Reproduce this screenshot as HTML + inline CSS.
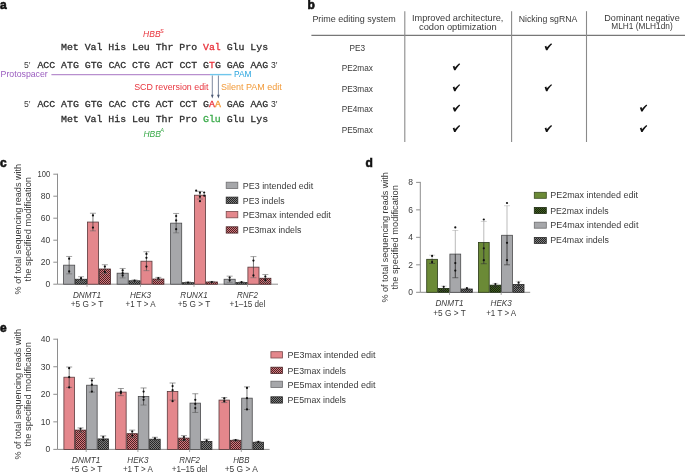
<!DOCTYPE html>
<html><head><meta charset="utf-8"><style>
html,body{margin:0;padding:0;background:#fff;}
body{width:685px;height:473px;overflow:hidden;}
svg{display:block;font-family:"Liberation Sans", sans-serif;will-change:transform;}
</style></head><body>
<svg width="685" height="473" viewBox="0 0 685 473">
<text x="0" y="8.8" font-size="12.0" fill="#111" text-anchor="start" font-weight="bold" stroke="#111" stroke-width="0.6">a</text>
<text x="307.6" y="8.8" font-size="12.0" fill="#111" text-anchor="start" font-weight="bold" stroke="#111" stroke-width="0.6">b</text>
<text x="0" y="166.7" font-size="12.0" fill="#111" text-anchor="start" font-weight="bold" stroke="#111" stroke-width="0.6">c</text>
<text x="365.4" y="166.7" font-size="12.0" fill="#111" text-anchor="start" font-weight="bold" stroke="#111" stroke-width="0.6">d</text>
<text x="0" y="332.1" font-size="12.0" fill="#111" text-anchor="start" font-weight="bold" stroke="#111" stroke-width="0.6">e</text>
<text x="143.1" y="36.8" font-size="8.5" fill="#e8333c" text-anchor="start" font-style="italic">HBB</text>
<text x="160.0" y="32.6" font-size="5.6" fill="#e8333c" text-anchor="start" font-style="italic">S</text>
<text x="61.0" y="50.0" font-family='"Liberation Mono", monospace' font-size="9.875" stroke-width="0.3" xml:space="preserve" fill="#2e2e2e"><tspan fill="#2e2e2e" stroke="#2e2e2e">Met Val His Leu Thr Pro </tspan><tspan fill="#e8333c" stroke="#e8333c">Val</tspan><tspan fill="#2e2e2e" stroke="#2e2e2e"> Glu Lys</tspan></text>
<text x="24" y="68.0" font-size="8.6" fill="#3a3a3a" text-anchor="start" >5′</text>
<text x="37.4" y="68.0" font-family='"Liberation Mono", monospace' font-size="9.875" stroke-width="0.3" xml:space="preserve" fill="#2e2e2e"><tspan fill="#2e2e2e" stroke="#2e2e2e">ACC ATG GTG CAC CTG ACT CCT G</tspan><tspan fill="#e8333c" stroke="#e8333c">T</tspan><tspan fill="#2e2e2e" stroke="#2e2e2e">G GAG AAG</tspan></text>
<text x="271" y="68.0" font-size="8.6" fill="#2e2e2e" text-anchor="start" >3′</text>
<text x="0.6" y="77.2" font-size="8.75" fill="#9a5cbf" text-anchor="start" >Protospacer</text>
<line x1="51.4" y1="74.6" x2="210" y2="74.6" stroke="#b88fce" stroke-width="1.4" />
<line x1="210" y1="74.6" x2="231.5" y2="74.6" stroke="#70c6ec" stroke-width="1.4" />
<text x="234.0" y="77.3" font-size="8.4" fill="#2aa5df" text-anchor="start" >PAM</text>
<text x="134.2" y="90.3" font-size="8.87" fill="#e8333c" text-anchor="start" >SCD reversion edit</text>
<text x="221" y="90.3" font-size="8.98" fill="#f29a38" text-anchor="start" >Silent PAM edit</text>
<line x1="212.3" y1="75.5" x2="212.3" y2="95.5" stroke="#66748c" stroke-width="0.85" />
<path d="M210.95000000000002,94.7 L212.3,98.5 L213.65,94.7 Z" fill="#4a5873"/>
<line x1="218.4" y1="75.5" x2="218.4" y2="95.5" stroke="#66748c" stroke-width="0.85" />
<path d="M217.05,94.7 L218.4,98.5 L219.75,94.7 Z" fill="#4a5873"/>
<text x="24" y="107.4" font-size="8.6" fill="#3a3a3a" text-anchor="start" >5′</text>
<text x="37.4" y="107.4" font-family='"Liberation Mono", monospace' font-size="9.875" stroke-width="0.3" xml:space="preserve" fill="#2e2e2e"><tspan fill="#2e2e2e" stroke="#2e2e2e">ACC ATG GTG CAC CTG ACT CCT G</tspan><tspan fill="#e8333c" stroke="#e8333c">A</tspan><tspan fill="#f29a38" stroke="#f29a38">A</tspan><tspan fill="#2e2e2e" stroke="#2e2e2e"> GAG AAG</tspan></text>
<text x="271" y="107.4" font-size="8.6" fill="#2e2e2e" text-anchor="start" >3′</text>
<text x="61.0" y="122.4" font-family='"Liberation Mono", monospace' font-size="9.875" stroke-width="0.3" xml:space="preserve" fill="#2e2e2e"><tspan fill="#2e2e2e" stroke="#2e2e2e">Met Val His Leu Thr Pro </tspan><tspan fill="#3aaa4a" stroke="#3aaa4a">Glu</tspan><tspan fill="#2e2e2e" stroke="#2e2e2e"> Glu Lys</tspan></text>
<text x="143.4" y="136.6" font-size="8.5" fill="#3aaa4a" text-anchor="start" font-style="italic">HBB</text>
<text x="160.3" y="132.4" font-size="5.6" fill="#3aaa4a" text-anchor="start" font-style="italic">A</text>
<line x1="311.4" y1="35.3" x2="685" y2="35.3" stroke="#555" stroke-width="1" />
<line x1="404.8" y1="11.2" x2="404.8" y2="142" stroke="#8a8a8a" stroke-width="1.1" />
<line x1="511.6" y1="11.2" x2="511.6" y2="142" stroke="#8a8a8a" stroke-width="1.1" />
<line x1="586.5" y1="11.2" x2="586.5" y2="142" stroke="#8a8a8a" stroke-width="1.1" />
<text x="354.0" y="21.9" font-size="8.97" fill="#3a3a3a" text-anchor="middle" >Prime editing system</text>
<text x="457.7" y="21.0" font-size="9.2" fill="#3a3a3a" text-anchor="middle" >Improved architecture,</text>
<text x="457.8" y="29.7" font-size="9.32" fill="#3a3a3a" text-anchor="middle" >codon optimization</text>
<text x="548.0" y="21.5" font-size="8.71" fill="#3a3a3a" text-anchor="middle" >Nicking sgRNA</text>
<text x="642.0" y="20.5" font-size="9.04" fill="#3a3a3a" text-anchor="middle" >Dominant negative</text>
<text x="642.0" y="28.9" font-size="8.3" fill="#3a3a3a" text-anchor="middle" >MLH1 (MLH1dn)</text>
<text x="357.3" y="50.8" font-size="8.25" fill="#3a3a3a" text-anchor="middle" >PE3</text>
<path transform="translate(544.65,43.40)" d="M0,3.0 L1.7,2.3 L2.2,4.0 C3.5,2.5 5.0,1.0 6.5,-0.1 L7.4,0.8 C5.6,2.5 4.1,4.4 2.75,6.9 L1.35,6.9 Z" fill="#111"/>
<text x="357.3" y="70.8" font-size="8.25" fill="#3a3a3a" text-anchor="middle" >PE2max</text>
<path transform="translate(452.75,63.40)" d="M0,3.0 L1.7,2.3 L2.2,4.0 C3.5,2.5 5.0,1.0 6.5,-0.1 L7.4,0.8 C5.6,2.5 4.1,4.4 2.75,6.9 L1.35,6.9 Z" fill="#111"/>
<text x="357.3" y="91.7" font-size="8.25" fill="#3a3a3a" text-anchor="middle" >PE3max</text>
<path transform="translate(452.75,84.30)" d="M0,3.0 L1.7,2.3 L2.2,4.0 C3.5,2.5 5.0,1.0 6.5,-0.1 L7.4,0.8 C5.6,2.5 4.1,4.4 2.75,6.9 L1.35,6.9 Z" fill="#111"/>
<path transform="translate(544.65,84.30)" d="M0,3.0 L1.7,2.3 L2.2,4.0 C3.5,2.5 5.0,1.0 6.5,-0.1 L7.4,0.8 C5.6,2.5 4.1,4.4 2.75,6.9 L1.35,6.9 Z" fill="#111"/>
<text x="357.3" y="112.1" font-size="8.25" fill="#3a3a3a" text-anchor="middle" >PE4max</text>
<path transform="translate(452.75,104.70)" d="M0,3.0 L1.7,2.3 L2.2,4.0 C3.5,2.5 5.0,1.0 6.5,-0.1 L7.4,0.8 C5.6,2.5 4.1,4.4 2.75,6.9 L1.35,6.9 Z" fill="#111"/>
<path transform="translate(639.85,104.70)" d="M0,3.0 L1.7,2.3 L2.2,4.0 C3.5,2.5 5.0,1.0 6.5,-0.1 L7.4,0.8 C5.6,2.5 4.1,4.4 2.75,6.9 L1.35,6.9 Z" fill="#111"/>
<text x="357.3" y="132.6" font-size="8.25" fill="#3a3a3a" text-anchor="middle" >PE5max</text>
<path transform="translate(452.75,125.20)" d="M0,3.0 L1.7,2.3 L2.2,4.0 C3.5,2.5 5.0,1.0 6.5,-0.1 L7.4,0.8 C5.6,2.5 4.1,4.4 2.75,6.9 L1.35,6.9 Z" fill="#111"/>
<path transform="translate(544.65,125.20)" d="M0,3.0 L1.7,2.3 L2.2,4.0 C3.5,2.5 5.0,1.0 6.5,-0.1 L7.4,0.8 C5.6,2.5 4.1,4.4 2.75,6.9 L1.35,6.9 Z" fill="#111"/>
<path transform="translate(639.85,125.20)" d="M0,3.0 L1.7,2.3 L2.2,4.0 C3.5,2.5 5.0,1.0 6.5,-0.1 L7.4,0.8 C5.6,2.5 4.1,4.4 2.75,6.9 L1.35,6.9 Z" fill="#111"/>
<defs>
<pattern id="hpink" width="2" height="2" patternUnits="userSpaceOnUse"><rect width="2" height="2" fill="#d8767c"/><rect width="1" height="1" fill="#4a2426"/><rect x="1" y="1" width="1" height="1" fill="#4a2426"/></pattern>
<pattern id="hgray" width="2" height="2" patternUnits="userSpaceOnUse"><rect width="2" height="2" fill="#7e7e7e"/><rect width="1" height="1" fill="#262626"/><rect x="1" y="1" width="1" height="1" fill="#262626"/></pattern>
<pattern id="hgreen" width="2" height="2" patternUnits="userSpaceOnUse"><rect width="2" height="2" fill="#425e22"/><rect width="1" height="1" fill="#18260c"/><rect x="1" y="1" width="1" height="1" fill="#18260c"/></pattern>
</defs>
<line x1="57.5" y1="173.7" x2="57.5" y2="284.2" stroke="#8e8e8e" stroke-width="1" />
<line x1="57.5" y1="284.2" x2="278" y2="284.2" stroke="#8e8e8e" stroke-width="1" />
<line x1="53.3" y1="284.2" x2="57.5" y2="284.2" stroke="#8e8e8e" stroke-width="1" />
<text x="50.2" y="287.09999999999997" font-size="8.5" fill="#3a3a3a" text-anchor="end" >0</text>
<line x1="53.3" y1="262.2" x2="57.5" y2="262.2" stroke="#8e8e8e" stroke-width="1" />
<text x="50.2" y="265.09999999999997" font-size="8.5" fill="#3a3a3a" text-anchor="end" >20</text>
<line x1="53.3" y1="240.2" x2="57.5" y2="240.2" stroke="#8e8e8e" stroke-width="1" />
<text x="50.2" y="243.1" font-size="8.5" fill="#3a3a3a" text-anchor="end" >40</text>
<line x1="53.3" y1="218.2" x2="57.5" y2="218.2" stroke="#8e8e8e" stroke-width="1" />
<text x="50.2" y="221.1" font-size="8.5" fill="#3a3a3a" text-anchor="end" >60</text>
<line x1="53.3" y1="196.2" x2="57.5" y2="196.2" stroke="#8e8e8e" stroke-width="1" />
<text x="50.2" y="199.1" font-size="8.5" fill="#3a3a3a" text-anchor="end" >80</text>
<line x1="53.3" y1="174.2" x2="57.5" y2="174.2" stroke="#8e8e8e" stroke-width="1" />
<text x="50.2" y="177.1" font-size="8.5" fill="#3a3a3a" text-anchor="end" textLength="12.6" lengthAdjust="spacingAndGlyphs">100</text>
<text transform="translate(21.1,229.2) rotate(-90)" x="0" y="0" font-size="9.07" fill="#3a3a3a" text-anchor="middle">% of total sequencing reads with</text>
<text transform="translate(30.8,229.2) rotate(-90)" x="0" y="0" font-size="9.3" fill="#3a3a3a" text-anchor="middle">the specified modification</text>
<rect x="63.60" y="265.17" width="11.10" height="19.03" fill="#a6a7aa" stroke="#4a4a4c" stroke-width="0.8"/>
<line x1="69.15" y1="256.47999999999996" x2="69.15" y2="265.16999999999996" stroke="#303030" stroke-width="0.65" />
<line x1="69.15" y1="265.16999999999996" x2="69.15" y2="273.86" stroke="#303030" stroke-width="0.65" />
<line x1="66.15" y1="256.47999999999996" x2="72.15" y2="256.47999999999996" stroke="#6a6a6a" stroke-width="0.6" />
<line x1="66.15" y1="273.86" x2="72.15" y2="273.86" stroke="#6a6a6a" stroke-width="0.6" />
<circle cx="69.15" cy="258.68" r="1.1" fill="#111"/>
<circle cx="69.15" cy="271.44" r="1.1" fill="#111"/>
<rect x="75.50" y="279.25" width="11.10" height="4.95" fill="url(#hgray)" stroke="#2a2a2a" stroke-width="0.8"/>
<line x1="81.05000000000001" y1="276.71999999999997" x2="81.05000000000001" y2="279.25" stroke="#303030" stroke-width="0.65" />
<line x1="81.05000000000001" y1="279.25" x2="81.05000000000001" y2="281.78" stroke="#303030" stroke-width="0.65" />
<line x1="78.05000000000001" y1="276.71999999999997" x2="84.05000000000001" y2="276.71999999999997" stroke="#6a6a6a" stroke-width="0.6" />
<line x1="78.05000000000001" y1="281.78" x2="84.05000000000001" y2="281.78" stroke="#6a6a6a" stroke-width="0.6" />
<circle cx="81.05" cy="278.15" r="1.1" fill="#111"/>
<rect x="87.40" y="222.05" width="11.10" height="62.15" fill="#e4878c" stroke="#5a3a3c" stroke-width="0.8"/>
<line x1="92.95" y1="213.25" x2="92.95" y2="222.04999999999998" stroke="#303030" stroke-width="0.65" />
<line x1="92.95" y1="222.04999999999998" x2="92.95" y2="230.85" stroke="#303030" stroke-width="0.65" />
<line x1="89.95" y1="213.25" x2="95.95" y2="213.25" stroke="#6a6a6a" stroke-width="0.6" />
<line x1="89.95" y1="230.85" x2="95.95" y2="230.85" stroke="#6a6a6a" stroke-width="0.6" />
<circle cx="92.95" cy="215.45" r="1.1" fill="#111"/>
<circle cx="92.95" cy="227.55" r="1.1" fill="#111"/>
<rect x="99.30" y="269.02" width="11.10" height="15.18" fill="url(#hpink)" stroke="#4a2426" stroke-width="0.8"/>
<line x1="104.85000000000001" y1="264.72999999999996" x2="104.85000000000001" y2="269.02" stroke="#303030" stroke-width="0.65" />
<line x1="104.85000000000001" y1="269.02" x2="104.85000000000001" y2="273.31" stroke="#303030" stroke-width="0.65" />
<line x1="101.85000000000001" y1="264.72999999999996" x2="107.85000000000001" y2="264.72999999999996" stroke="#6a6a6a" stroke-width="0.6" />
<line x1="101.85000000000001" y1="273.31" x2="107.85000000000001" y2="273.31" stroke="#6a6a6a" stroke-width="0.6" />
<circle cx="104.85" cy="266.60" r="1.1" fill="#111"/>
<circle cx="104.85" cy="272.10" r="1.1" fill="#111"/>
<line x1="87.0" y1="284.2" x2="87.0" y2="286.8" stroke="#8e8e8e" stroke-width="0.8" />
<text x="87.0" y="297.6" font-size="9.2" fill="#3a3a3a" text-anchor="middle" font-style="italic" textLength="28.2" lengthAdjust="spacingAndGlyphs">DNMT1</text>
<text x="87.0" y="307.4" font-size="9.0" fill="#3a3a3a" text-anchor="middle" textLength="32.4" lengthAdjust="spacingAndGlyphs">+5 G &gt; T</text>
<rect x="117.10" y="273.20" width="11.10" height="11.00" fill="#a6a7aa" stroke="#4a4a4c" stroke-width="0.8"/>
<line x1="122.65" y1="268.46999999999997" x2="122.65" y2="273.2" stroke="#303030" stroke-width="0.65" />
<line x1="122.65" y1="273.2" x2="122.65" y2="277.93" stroke="#303030" stroke-width="0.65" />
<line x1="119.65" y1="268.46999999999997" x2="125.65" y2="268.46999999999997" stroke="#6a6a6a" stroke-width="0.6" />
<line x1="119.65" y1="277.93" x2="125.65" y2="277.93" stroke="#6a6a6a" stroke-width="0.6" />
<circle cx="122.65" cy="270.45" r="1.1" fill="#111"/>
<circle cx="122.65" cy="275.40" r="1.1" fill="#111"/>
<circle cx="122.65" cy="273.20" r="1.1" fill="#111"/>
<rect x="129.00" y="280.79" width="11.10" height="3.41" fill="url(#hgray)" stroke="#2a2a2a" stroke-width="0.8"/>
<line x1="134.54999999999998" y1="280.02" x2="134.54999999999998" y2="280.78999999999996" stroke="#303030" stroke-width="0.65" />
<line x1="134.54999999999998" y1="280.78999999999996" x2="134.54999999999998" y2="281.56" stroke="#303030" stroke-width="0.65" />
<line x1="131.54999999999998" y1="280.02" x2="137.54999999999998" y2="280.02" stroke="#6a6a6a" stroke-width="0.6" />
<line x1="131.54999999999998" y1="281.56" x2="137.54999999999998" y2="281.56" stroke="#6a6a6a" stroke-width="0.6" />
<circle cx="134.55" cy="280.68" r="1.1" fill="#111"/>
<rect x="140.90" y="261.21" width="11.10" height="22.99" fill="#e4878c" stroke="#5a3a3c" stroke-width="0.8"/>
<line x1="146.45" y1="251.75" x2="146.45" y2="261.21" stroke="#303030" stroke-width="0.65" />
<line x1="146.45" y1="261.21" x2="146.45" y2="270.67" stroke="#303030" stroke-width="0.65" />
<line x1="143.45" y1="251.75" x2="149.45" y2="251.75" stroke="#6a6a6a" stroke-width="0.6" />
<line x1="143.45" y1="270.67" x2="149.45" y2="270.67" stroke="#6a6a6a" stroke-width="0.6" />
<circle cx="146.45" cy="253.95" r="1.1" fill="#111"/>
<circle cx="146.45" cy="257.80" r="1.1" fill="#111"/>
<circle cx="146.45" cy="266.60" r="1.1" fill="#111"/>
<rect x="152.80" y="279.03" width="11.10" height="5.17" fill="url(#hpink)" stroke="#4a2426" stroke-width="0.8"/>
<line x1="158.35" y1="277.38" x2="158.35" y2="279.03" stroke="#303030" stroke-width="0.65" />
<line x1="158.35" y1="279.03" x2="158.35" y2="280.68" stroke="#303030" stroke-width="0.65" />
<line x1="155.35" y1="277.38" x2="161.35" y2="277.38" stroke="#6a6a6a" stroke-width="0.6" />
<line x1="155.35" y1="280.68" x2="161.35" y2="280.68" stroke="#6a6a6a" stroke-width="0.6" />
<circle cx="158.35" cy="278.15" r="1.1" fill="#111"/>
<line x1="140.5" y1="284.2" x2="140.5" y2="286.8" stroke="#8e8e8e" stroke-width="0.8" />
<text x="140.5" y="297.6" font-size="9.2" fill="#3a3a3a" text-anchor="middle" font-style="italic" textLength="21.2" lengthAdjust="spacingAndGlyphs">HEK3</text>
<text x="140.5" y="307.4" font-size="9.0" fill="#3a3a3a" text-anchor="middle" textLength="30.0" lengthAdjust="spacingAndGlyphs">+1 T &gt; A</text>
<rect x="170.60" y="223.15" width="11.10" height="61.05" fill="#a6a7aa" stroke="#4a4a4c" stroke-width="0.8"/>
<line x1="176.14999999999998" y1="213.46999999999997" x2="176.14999999999998" y2="223.14999999999998" stroke="#303030" stroke-width="0.65" />
<line x1="176.14999999999998" y1="223.14999999999998" x2="176.14999999999998" y2="232.82999999999998" stroke="#303030" stroke-width="0.65" />
<line x1="173.14999999999998" y1="213.46999999999997" x2="179.14999999999998" y2="213.46999999999997" stroke="#6a6a6a" stroke-width="0.6" />
<line x1="173.14999999999998" y1="232.82999999999998" x2="179.14999999999998" y2="232.82999999999998" stroke="#6a6a6a" stroke-width="0.6" />
<circle cx="176.15" cy="216.00" r="1.1" fill="#111"/>
<circle cx="176.15" cy="220.40" r="1.1" fill="#111"/>
<circle cx="176.15" cy="229.20" r="1.1" fill="#111"/>
<rect x="182.50" y="282.66" width="11.10" height="1.54" fill="url(#hgray)" stroke="#2a2a2a" stroke-width="0.8"/>
<line x1="188.04999999999998" y1="282.0" x2="188.04999999999998" y2="282.65999999999997" stroke="#303030" stroke-width="0.65" />
<line x1="188.04999999999998" y1="282.65999999999997" x2="188.04999999999998" y2="283.32" stroke="#303030" stroke-width="0.65" />
<line x1="185.04999999999998" y1="282.0" x2="191.04999999999998" y2="282.0" stroke="#6a6a6a" stroke-width="0.6" />
<line x1="185.04999999999998" y1="283.32" x2="191.04999999999998" y2="283.32" stroke="#6a6a6a" stroke-width="0.6" />
<circle cx="188.05" cy="282.55" r="1.1" fill="#111"/>
<rect x="194.40" y="195.21" width="11.10" height="88.99" fill="#e4878c" stroke="#5a3a3c" stroke-width="0.8"/>
<line x1="199.95" y1="191.35999999999996" x2="199.95" y2="195.20999999999998" stroke="#303030" stroke-width="0.65" />
<line x1="199.95" y1="195.20999999999998" x2="199.95" y2="199.05999999999997" stroke="#303030" stroke-width="0.65" />
<line x1="196.95" y1="191.35999999999996" x2="202.95" y2="191.35999999999996" stroke="#6a6a6a" stroke-width="0.6" />
<line x1="196.95" y1="199.05999999999997" x2="202.95" y2="199.05999999999997" stroke="#6a6a6a" stroke-width="0.6" />
<circle cx="196.15" cy="190.70" r="1.1" fill="#111"/>
<circle cx="199.95" cy="192.68" r="1.1" fill="#111"/>
<circle cx="204.15" cy="192.57" r="1.1" fill="#111"/>
<circle cx="204.25" cy="195.65" r="1.1" fill="#111"/>
<circle cx="199.95" cy="196.75" r="1.1" fill="#111"/>
<circle cx="199.95" cy="201.15" r="1.1" fill="#111"/>
<rect x="206.30" y="282.00" width="11.10" height="2.20" fill="url(#hpink)" stroke="#4a2426" stroke-width="0.8"/>
<line x1="211.84999999999997" y1="281.45" x2="211.84999999999997" y2="282.0" stroke="#303030" stroke-width="0.65" />
<line x1="211.84999999999997" y1="282.0" x2="211.84999999999997" y2="282.55" stroke="#303030" stroke-width="0.65" />
<line x1="208.84999999999997" y1="281.45" x2="214.84999999999997" y2="281.45" stroke="#6a6a6a" stroke-width="0.6" />
<line x1="208.84999999999997" y1="282.55" x2="214.84999999999997" y2="282.55" stroke="#6a6a6a" stroke-width="0.6" />
<circle cx="211.85" cy="282.00" r="1.1" fill="#111"/>
<line x1="194.0" y1="284.2" x2="194.0" y2="286.8" stroke="#8e8e8e" stroke-width="0.8" />
<text x="194.0" y="297.6" font-size="9.2" fill="#3a3a3a" text-anchor="middle" font-style="italic" textLength="27.4" lengthAdjust="spacingAndGlyphs">RUNX1</text>
<text x="194.0" y="307.4" font-size="9.0" fill="#3a3a3a" text-anchor="middle" textLength="32.4" lengthAdjust="spacingAndGlyphs">+5 G &gt; T</text>
<rect x="224.10" y="279.25" width="11.10" height="4.95" fill="#a6a7aa" stroke="#4a4a4c" stroke-width="0.8"/>
<line x1="229.64999999999998" y1="276.16999999999996" x2="229.64999999999998" y2="279.25" stroke="#303030" stroke-width="0.65" />
<line x1="229.64999999999998" y1="279.25" x2="229.64999999999998" y2="282.33" stroke="#303030" stroke-width="0.65" />
<line x1="226.64999999999998" y1="276.16999999999996" x2="232.64999999999998" y2="276.16999999999996" stroke="#6a6a6a" stroke-width="0.6" />
<line x1="226.64999999999998" y1="282.33" x2="232.64999999999998" y2="282.33" stroke="#6a6a6a" stroke-width="0.6" />
<circle cx="229.65" cy="277.60" r="1.1" fill="#111"/>
<circle cx="229.65" cy="280.35" r="1.1" fill="#111"/>
<rect x="236.00" y="282.55" width="11.10" height="1.65" fill="url(#hgray)" stroke="#2a2a2a" stroke-width="0.8"/>
<line x1="241.54999999999998" y1="282.0" x2="241.54999999999998" y2="282.55" stroke="#303030" stroke-width="0.65" />
<line x1="241.54999999999998" y1="282.55" x2="241.54999999999998" y2="283.09999999999997" stroke="#303030" stroke-width="0.65" />
<line x1="238.54999999999998" y1="282.0" x2="244.54999999999998" y2="282.0" stroke="#6a6a6a" stroke-width="0.6" />
<line x1="238.54999999999998" y1="283.09999999999997" x2="244.54999999999998" y2="283.09999999999997" stroke="#6a6a6a" stroke-width="0.6" />
<circle cx="241.55" cy="282.22" r="1.1" fill="#111"/>
<rect x="247.90" y="267.15" width="11.10" height="17.05" fill="#e4878c" stroke="#5a3a3c" stroke-width="0.8"/>
<line x1="253.45" y1="256.59" x2="253.45" y2="267.15" stroke="#303030" stroke-width="0.65" />
<line x1="253.45" y1="267.15" x2="253.45" y2="277.71" stroke="#303030" stroke-width="0.65" />
<line x1="250.45" y1="256.59" x2="256.45" y2="256.59" stroke="#6a6a6a" stroke-width="0.6" />
<line x1="250.45" y1="277.71" x2="256.45" y2="277.71" stroke="#6a6a6a" stroke-width="0.6" />
<circle cx="253.45" cy="260.55" r="1.1" fill="#111"/>
<circle cx="253.45" cy="275.40" r="1.1" fill="#111"/>
<rect x="259.80" y="278.26" width="11.10" height="5.94" fill="url(#hpink)" stroke="#4a2426" stroke-width="0.8"/>
<line x1="265.34999999999997" y1="274.52" x2="265.34999999999997" y2="278.26" stroke="#303030" stroke-width="0.65" />
<line x1="265.34999999999997" y1="278.26" x2="265.34999999999997" y2="282.0" stroke="#303030" stroke-width="0.65" />
<line x1="262.34999999999997" y1="274.52" x2="268.34999999999997" y2="274.52" stroke="#6a6a6a" stroke-width="0.6" />
<line x1="262.34999999999997" y1="282.0" x2="268.34999999999997" y2="282.0" stroke="#6a6a6a" stroke-width="0.6" />
<circle cx="265.35" cy="276.50" r="1.1" fill="#111"/>
<circle cx="265.35" cy="279.80" r="1.1" fill="#111"/>
<line x1="247.5" y1="284.2" x2="247.5" y2="286.8" stroke="#8e8e8e" stroke-width="0.8" />
<text x="247.5" y="297.6" font-size="9.2" fill="#3a3a3a" text-anchor="middle" font-style="italic" textLength="20.8" lengthAdjust="spacingAndGlyphs">RNF2</text>
<text x="247.5" y="307.4" font-size="9.0" fill="#3a3a3a" text-anchor="middle" textLength="35.9" lengthAdjust="spacingAndGlyphs">+1–15 del</text>
<rect x="226.20" y="182.20" width="11.60" height="6.30" fill="#a6a7aa" stroke="#6e6e70" stroke-width="0.8"/>
<text x="242.8" y="188.7" font-size="9.6" fill="#3a3a3a" text-anchor="start" textLength="70.4" lengthAdjust="spacingAndGlyphs">PE3 intended edit</text>
<rect x="226.20" y="197.10" width="11.60" height="6.30" fill="url(#hgray)" stroke="#2a2a2a" stroke-width="0.8"/>
<text x="242.8" y="203.6" font-size="9.6" fill="#3a3a3a" text-anchor="start" textLength="41.8" lengthAdjust="spacingAndGlyphs">PE3 indels</text>
<rect x="226.20" y="211.50" width="11.60" height="6.30" fill="#e4878c" stroke="#7a4a4c" stroke-width="0.8"/>
<text x="242.8" y="218.0" font-size="9.6" fill="#3a3a3a" text-anchor="start" textLength="87.9" lengthAdjust="spacingAndGlyphs">PE3max intended edit</text>
<rect x="226.20" y="226.80" width="11.60" height="6.30" fill="url(#hpink)" stroke="#4a2426" stroke-width="0.8"/>
<text x="242.8" y="233.3" font-size="9.6" fill="#3a3a3a" text-anchor="start" textLength="58.5" lengthAdjust="spacingAndGlyphs">PE3max indels</text>
<line x1="420.3" y1="181.9" x2="420.3" y2="292.3" stroke="#8e8e8e" stroke-width="1" />
<line x1="420.3" y1="292.3" x2="530.2" y2="292.3" stroke="#8e8e8e" stroke-width="1" />
<line x1="416.1" y1="292.3" x2="420.3" y2="292.3" stroke="#8e8e8e" stroke-width="1" />
<text x="413.0" y="295.2" font-size="8.5" fill="#3a3a3a" text-anchor="end" >0</text>
<line x1="416.1" y1="264.82" x2="420.3" y2="264.82" stroke="#8e8e8e" stroke-width="1" />
<text x="413.0" y="267.71999999999997" font-size="8.5" fill="#3a3a3a" text-anchor="end" >2</text>
<line x1="416.1" y1="237.34" x2="420.3" y2="237.34" stroke="#8e8e8e" stroke-width="1" />
<text x="413.0" y="240.24" font-size="8.5" fill="#3a3a3a" text-anchor="end" >4</text>
<line x1="416.1" y1="209.86" x2="420.3" y2="209.86" stroke="#8e8e8e" stroke-width="1" />
<text x="413.0" y="212.76000000000002" font-size="8.5" fill="#3a3a3a" text-anchor="end" >6</text>
<line x1="416.1" y1="182.38" x2="420.3" y2="182.38" stroke="#8e8e8e" stroke-width="1" />
<text x="413.0" y="185.28" font-size="8.5" fill="#3a3a3a" text-anchor="end" >8</text>
<text transform="translate(388.3,237.35000000000002) rotate(-90)" x="0" y="0" font-size="9.07" fill="#3a3a3a" text-anchor="middle">% of total sequencing reads with</text>
<text transform="translate(397.8,237.35000000000002) rotate(-90)" x="0" y="0" font-size="9.3" fill="#3a3a3a" text-anchor="middle">the specified modification</text>
<rect x="426.70" y="259.32" width="10.80" height="32.98" fill="#6b8a36" stroke="#2a3a18" stroke-width="0.8"/>
<line x1="432.1" y1="255.202" x2="432.1" y2="259.324" stroke="rgba(0,0,0,0.3)" stroke-width="0.9" />
<line x1="432.1" y1="259.324" x2="432.1" y2="263.446" stroke="#333" stroke-width="0.9" />
<line x1="429.1" y1="255.202" x2="435.1" y2="255.202" stroke="rgba(0,0,0,0.3)" stroke-width="0.6" />
<line x1="429.1" y1="263.446" x2="435.1" y2="263.446" stroke="#333" stroke-width="0.6" />
<circle cx="432.10" cy="255.89" r="1.1" fill="#111"/>
<circle cx="432.10" cy="262.07" r="1.1" fill="#111"/>
<rect x="438.30" y="288.45" width="10.80" height="3.85" fill="url(#hgreen)" stroke="#1c2a10" stroke-width="0.8"/>
<line x1="443.70000000000005" y1="286.117" x2="443.70000000000005" y2="288.4528" stroke="rgba(0,0,0,0.3)" stroke-width="0.9" />
<line x1="443.70000000000005" y1="288.4528" x2="443.70000000000005" y2="290.78860000000003" stroke="#333" stroke-width="0.9" />
<line x1="440.70000000000005" y1="286.117" x2="446.70000000000005" y2="286.117" stroke="rgba(0,0,0,0.3)" stroke-width="0.6" />
<line x1="440.70000000000005" y1="290.78860000000003" x2="446.70000000000005" y2="290.78860000000003" stroke="#333" stroke-width="0.6" />
<circle cx="443.70" cy="286.80" r="1.1" fill="#111"/>
<rect x="449.90" y="254.10" width="10.80" height="38.20" fill="#a6a7aa" stroke="#4a4a4c" stroke-width="0.8"/>
<line x1="455.3" y1="230.47000000000003" x2="455.3" y2="254.1028" stroke="rgba(0,0,0,0.3)" stroke-width="0.9" />
<line x1="455.3" y1="254.1028" x2="455.3" y2="277.73560000000003" stroke="#333" stroke-width="0.9" />
<line x1="452.3" y1="230.47000000000003" x2="458.3" y2="230.47000000000003" stroke="rgba(0,0,0,0.3)" stroke-width="0.6" />
<line x1="452.3" y1="277.73560000000003" x2="458.3" y2="277.73560000000003" stroke="#333" stroke-width="0.6" />
<circle cx="455.30" cy="227.45" r="1.1" fill="#111"/>
<circle cx="455.30" cy="263.03" r="1.1" fill="#111"/>
<circle cx="455.30" cy="270.59" r="1.1" fill="#111"/>
<rect x="461.50" y="289.00" width="10.80" height="3.30" fill="url(#hgray)" stroke="#2a2a2a" stroke-width="0.8"/>
<line x1="466.90000000000003" y1="288.178" x2="466.90000000000003" y2="289.0024" stroke="rgba(0,0,0,0.3)" stroke-width="0.9" />
<line x1="466.90000000000003" y1="289.0024" x2="466.90000000000003" y2="289.8268" stroke="#333" stroke-width="0.9" />
<line x1="463.90000000000003" y1="288.178" x2="469.90000000000003" y2="288.178" stroke="rgba(0,0,0,0.3)" stroke-width="0.6" />
<line x1="463.90000000000003" y1="289.8268" x2="469.90000000000003" y2="289.8268" stroke="#333" stroke-width="0.6" />
<circle cx="466.90" cy="288.18" r="1.1" fill="#111"/>
<line x1="449.5" y1="292.3" x2="449.5" y2="294.90000000000003" stroke="#8e8e8e" stroke-width="0.8" />
<text x="449.5" y="305.6" font-size="9.2" fill="#3a3a3a" text-anchor="middle" font-style="italic" textLength="28.2" lengthAdjust="spacingAndGlyphs">DNMT1</text>
<text x="449.5" y="315.5" font-size="9.0" fill="#3a3a3a" text-anchor="middle" textLength="32.4" lengthAdjust="spacingAndGlyphs">+5 G &gt; T</text>
<rect x="478.40" y="242.56" width="10.80" height="49.74" fill="#6b8a36" stroke="#2a3a18" stroke-width="0.8"/>
<line x1="483.8" y1="221.4016" x2="483.8" y2="242.5612" stroke="rgba(0,0,0,0.3)" stroke-width="0.9" />
<line x1="483.8" y1="242.5612" x2="483.8" y2="263.7208" stroke="#333" stroke-width="0.9" />
<line x1="480.8" y1="221.4016" x2="486.8" y2="221.4016" stroke="rgba(0,0,0,0.3)" stroke-width="0.6" />
<line x1="480.8" y1="263.7208" x2="486.8" y2="263.7208" stroke="#333" stroke-width="0.6" />
<circle cx="483.80" cy="219.48" r="1.1" fill="#111"/>
<circle cx="483.80" cy="248.33" r="1.1" fill="#111"/>
<circle cx="483.80" cy="260.15" r="1.1" fill="#111"/>
<rect x="490.00" y="285.16" width="10.80" height="7.14" fill="url(#hgreen)" stroke="#1c2a10" stroke-width="0.8"/>
<line x1="495.40000000000003" y1="283.369" x2="495.40000000000003" y2="285.15520000000004" stroke="rgba(0,0,0,0.3)" stroke-width="0.9" />
<line x1="495.40000000000003" y1="285.15520000000004" x2="495.40000000000003" y2="286.9414" stroke="#333" stroke-width="0.9" />
<line x1="492.40000000000003" y1="283.369" x2="498.40000000000003" y2="283.369" stroke="rgba(0,0,0,0.3)" stroke-width="0.6" />
<line x1="492.40000000000003" y1="286.9414" x2="498.40000000000003" y2="286.9414" stroke="#333" stroke-width="0.6" />
<circle cx="495.40" cy="284.06" r="1.1" fill="#111"/>
<rect x="501.60" y="235.28" width="10.80" height="57.02" fill="#a6a7aa" stroke="#4a4a4c" stroke-width="0.8"/>
<line x1="507.0" y1="205.738" x2="507.0" y2="235.279" stroke="rgba(0,0,0,0.3)" stroke-width="0.9" />
<line x1="507.0" y1="235.279" x2="507.0" y2="264.82" stroke="#333" stroke-width="0.9" />
<line x1="504.0" y1="205.738" x2="510.0" y2="205.738" stroke="rgba(0,0,0,0.3)" stroke-width="0.6" />
<line x1="504.0" y1="264.82" x2="510.0" y2="264.82" stroke="#333" stroke-width="0.6" />
<circle cx="507.00" cy="202.99" r="1.1" fill="#111"/>
<circle cx="507.00" cy="242.84" r="1.1" fill="#111"/>
<circle cx="507.00" cy="260.15" r="1.1" fill="#111"/>
<rect x="513.20" y="284.47" width="10.80" height="7.83" fill="url(#hgray)" stroke="#2a2a2a" stroke-width="0.8"/>
<line x1="518.5999999999999" y1="281.308" x2="518.5999999999999" y2="284.4682" stroke="rgba(0,0,0,0.3)" stroke-width="0.9" />
<line x1="518.5999999999999" y1="284.4682" x2="518.5999999999999" y2="287.6284" stroke="#333" stroke-width="0.9" />
<line x1="515.5999999999999" y1="281.308" x2="521.5999999999999" y2="281.308" stroke="rgba(0,0,0,0.3)" stroke-width="0.6" />
<line x1="515.5999999999999" y1="287.6284" x2="521.5999999999999" y2="287.6284" stroke="#333" stroke-width="0.6" />
<circle cx="518.60" cy="282.68" r="1.1" fill="#111"/>
<line x1="501.2" y1="292.3" x2="501.2" y2="294.90000000000003" stroke="#8e8e8e" stroke-width="0.8" />
<text x="501.2" y="305.6" font-size="9.2" fill="#3a3a3a" text-anchor="middle" font-style="italic" textLength="21.2" lengthAdjust="spacingAndGlyphs">HEK3</text>
<text x="501.2" y="315.5" font-size="9.0" fill="#3a3a3a" text-anchor="middle" textLength="30.0" lengthAdjust="spacingAndGlyphs">+1 T &gt; A</text>
<rect x="534.30" y="192.30" width="12.00" height="6.00" fill="#6b8a36" stroke="#3a4a20" stroke-width="0.8"/>
<text x="550.2" y="198.3" font-size="9.6" fill="#3a3a3a" text-anchor="start" textLength="87.7" lengthAdjust="spacingAndGlyphs">PE2max intended edit</text>
<rect x="534.30" y="207.50" width="12.00" height="6.00" fill="url(#hgreen)" stroke="#1c2a10" stroke-width="0.8"/>
<text x="550.2" y="213.5" font-size="9.6" fill="#3a3a3a" text-anchor="start" textLength="58.4" lengthAdjust="spacingAndGlyphs">PE2max indels</text>
<rect x="534.30" y="222.20" width="12.00" height="6.00" fill="#a6a7aa" stroke="#6e6e70" stroke-width="0.8"/>
<text x="550.2" y="228.2" font-size="9.6" fill="#3a3a3a" text-anchor="start" textLength="88.2" lengthAdjust="spacingAndGlyphs">PE4max intended edit</text>
<rect x="534.30" y="237.40" width="12.00" height="6.00" fill="url(#hgray)" stroke="#2a2a2a" stroke-width="0.8"/>
<text x="550.2" y="243.4" font-size="9.6" fill="#3a3a3a" text-anchor="start" textLength="58.8" lengthAdjust="spacingAndGlyphs">PE4max indels</text>
<line x1="57.5" y1="338.7" x2="57.5" y2="449.4" stroke="#8e8e8e" stroke-width="1" />
<line x1="57.5" y1="449.4" x2="269.6" y2="449.4" stroke="#8e8e8e" stroke-width="1" />
<line x1="53.3" y1="449.4" x2="57.5" y2="449.4" stroke="#8e8e8e" stroke-width="1" />
<text x="50.2" y="452.29999999999995" font-size="8.5" fill="#3a3a3a" text-anchor="end" >0</text>
<line x1="53.3" y1="421.84999999999997" x2="57.5" y2="421.84999999999997" stroke="#8e8e8e" stroke-width="1" />
<text x="50.2" y="424.74999999999994" font-size="8.5" fill="#3a3a3a" text-anchor="end" >10</text>
<line x1="53.3" y1="394.29999999999995" x2="57.5" y2="394.29999999999995" stroke="#8e8e8e" stroke-width="1" />
<text x="50.2" y="397.19999999999993" font-size="8.5" fill="#3a3a3a" text-anchor="end" >20</text>
<line x1="53.3" y1="366.75" x2="57.5" y2="366.75" stroke="#8e8e8e" stroke-width="1" />
<text x="50.2" y="369.65" font-size="8.5" fill="#3a3a3a" text-anchor="end" >30</text>
<line x1="53.3" y1="339.2" x2="57.5" y2="339.2" stroke="#8e8e8e" stroke-width="1" />
<text x="50.2" y="342.09999999999997" font-size="8.5" fill="#3a3a3a" text-anchor="end" >40</text>
<text transform="translate(21.1,394.29999999999995) rotate(-90)" x="0" y="0" font-size="9.07" fill="#3a3a3a" text-anchor="middle">% of total sequencing reads with</text>
<text transform="translate(30.8,394.29999999999995) rotate(-90)" x="0" y="0" font-size="9.3" fill="#3a3a3a" text-anchor="middle">the specified modification</text>
<rect x="63.90" y="377.22" width="10.55" height="72.18" fill="#e4878c" stroke="#5a3a3c" stroke-width="0.8"/>
<line x1="69.175" y1="367.02549999999997" x2="69.175" y2="377.219" stroke="#303030" stroke-width="0.65" />
<line x1="69.175" y1="377.219" x2="69.175" y2="387.41249999999997" stroke="#303030" stroke-width="0.65" />
<line x1="66.175" y1="367.02549999999997" x2="72.175" y2="367.02549999999997" stroke="#5a5a5a" stroke-width="0.6" />
<line x1="66.175" y1="387.41249999999997" x2="72.175" y2="387.41249999999997" stroke="#5a5a5a" stroke-width="0.6" />
<circle cx="69.17" cy="368.13" r="1.1" fill="#111"/>
<circle cx="69.17" cy="377.22" r="1.1" fill="#111"/>
<circle cx="69.17" cy="387.41" r="1.1" fill="#111"/>
<rect x="75.25" y="430.11" width="10.55" height="19.29" fill="url(#hpink)" stroke="#4a2426" stroke-width="0.8"/>
<line x1="80.52499999999999" y1="427.911" x2="80.52499999999999" y2="430.11499999999995" stroke="#303030" stroke-width="0.65" />
<line x1="80.52499999999999" y1="430.11499999999995" x2="80.52499999999999" y2="432.31899999999996" stroke="#303030" stroke-width="0.65" />
<line x1="77.52499999999999" y1="427.911" x2="83.52499999999999" y2="427.911" stroke="#5a5a5a" stroke-width="0.6" />
<line x1="77.52499999999999" y1="432.31899999999996" x2="83.52499999999999" y2="432.31899999999996" stroke="#5a5a5a" stroke-width="0.6" />
<circle cx="80.52" cy="428.74" r="1.1" fill="#111"/>
<rect x="86.60" y="385.21" width="10.55" height="64.19" fill="#a6a7aa" stroke="#4a4a4c" stroke-width="0.8"/>
<line x1="91.875" y1="378.32099999999997" x2="91.875" y2="385.20849999999996" stroke="#303030" stroke-width="0.65" />
<line x1="91.875" y1="385.20849999999996" x2="91.875" y2="392.096" stroke="#303030" stroke-width="0.65" />
<line x1="88.875" y1="378.32099999999997" x2="94.875" y2="378.32099999999997" stroke="#5a5a5a" stroke-width="0.6" />
<line x1="88.875" y1="392.096" x2="94.875" y2="392.096" stroke="#5a5a5a" stroke-width="0.6" />
<circle cx="91.88" cy="380.52" r="1.1" fill="#111"/>
<circle cx="91.88" cy="384.66" r="1.1" fill="#111"/>
<circle cx="91.88" cy="391.54" r="1.1" fill="#111"/>
<rect x="97.95" y="438.93" width="10.55" height="10.47" fill="url(#hgray)" stroke="#2a2a2a" stroke-width="0.8"/>
<line x1="103.225" y1="435.90049999999997" x2="103.225" y2="438.931" stroke="#303030" stroke-width="0.65" />
<line x1="103.225" y1="438.931" x2="103.225" y2="441.9615" stroke="#303030" stroke-width="0.65" />
<line x1="100.225" y1="435.90049999999997" x2="106.225" y2="435.90049999999997" stroke="#5a5a5a" stroke-width="0.6" />
<line x1="100.225" y1="441.9615" x2="106.225" y2="441.9615" stroke="#5a5a5a" stroke-width="0.6" />
<circle cx="103.22" cy="437.00" r="1.1" fill="#111"/>
<circle cx="103.22" cy="439.76" r="1.1" fill="#111"/>
<line x1="86.2" y1="449.4" x2="86.2" y2="452.0" stroke="#8e8e8e" stroke-width="0.8" />
<text x="86.2" y="462.6" font-size="9.2" fill="#3a3a3a" text-anchor="middle" font-style="italic" textLength="28.2" lengthAdjust="spacingAndGlyphs">DNMT1</text>
<text x="86.2" y="472.2" font-size="9.0" fill="#3a3a3a" text-anchor="middle" textLength="32.4" lengthAdjust="spacingAndGlyphs">+5 G &gt; T</text>
<rect x="115.60" y="392.10" width="10.55" height="57.30" fill="#e4878c" stroke="#5a3a3c" stroke-width="0.8"/>
<line x1="120.875" y1="388.5145" x2="120.875" y2="392.096" stroke="#303030" stroke-width="0.65" />
<line x1="120.875" y1="392.096" x2="120.875" y2="395.6775" stroke="#303030" stroke-width="0.65" />
<line x1="117.875" y1="388.5145" x2="123.875" y2="388.5145" stroke="#5a5a5a" stroke-width="0.6" />
<line x1="117.875" y1="395.6775" x2="123.875" y2="395.6775" stroke="#5a5a5a" stroke-width="0.6" />
<circle cx="120.88" cy="391.54" r="1.1" fill="#111"/>
<circle cx="120.88" cy="392.92" r="1.1" fill="#111"/>
<rect x="126.95" y="433.70" width="10.55" height="15.70" fill="url(#hpink)" stroke="#4a2426" stroke-width="0.8"/>
<line x1="132.225" y1="430.11499999999995" x2="132.225" y2="433.69649999999996" stroke="#303030" stroke-width="0.65" />
<line x1="132.225" y1="433.69649999999996" x2="132.225" y2="437.27799999999996" stroke="#303030" stroke-width="0.65" />
<line x1="129.225" y1="430.11499999999995" x2="135.225" y2="430.11499999999995" stroke="#5a5a5a" stroke-width="0.6" />
<line x1="129.225" y1="437.27799999999996" x2="135.225" y2="437.27799999999996" stroke="#5a5a5a" stroke-width="0.6" />
<circle cx="132.22" cy="431.49" r="1.1" fill="#111"/>
<circle cx="132.22" cy="435.62" r="1.1" fill="#111"/>
<rect x="138.30" y="396.50" width="10.55" height="52.90" fill="#a6a7aa" stroke="#4a4a4c" stroke-width="0.8"/>
<line x1="143.57500000000002" y1="387.96349999999995" x2="143.57500000000002" y2="396.50399999999996" stroke="#303030" stroke-width="0.65" />
<line x1="143.57500000000002" y1="396.50399999999996" x2="143.57500000000002" y2="405.04449999999997" stroke="#303030" stroke-width="0.65" />
<line x1="140.57500000000002" y1="387.96349999999995" x2="146.57500000000002" y2="387.96349999999995" stroke="#5a5a5a" stroke-width="0.6" />
<line x1="140.57500000000002" y1="405.04449999999997" x2="146.57500000000002" y2="405.04449999999997" stroke="#5a5a5a" stroke-width="0.6" />
<circle cx="143.58" cy="391.54" r="1.1" fill="#111"/>
<circle cx="143.58" cy="397.05" r="1.1" fill="#111"/>
<circle cx="143.58" cy="399.81" r="1.1" fill="#111"/>
<rect x="149.65" y="439.21" width="10.55" height="10.19" fill="url(#hgray)" stroke="#2a2a2a" stroke-width="0.8"/>
<line x1="154.925" y1="437.27799999999996" x2="154.925" y2="439.2065" stroke="#303030" stroke-width="0.65" />
<line x1="154.925" y1="439.2065" x2="154.925" y2="441.135" stroke="#303030" stroke-width="0.65" />
<line x1="151.925" y1="437.27799999999996" x2="157.925" y2="437.27799999999996" stroke="#5a5a5a" stroke-width="0.6" />
<line x1="151.925" y1="441.135" x2="157.925" y2="441.135" stroke="#5a5a5a" stroke-width="0.6" />
<circle cx="154.93" cy="438.38" r="1.1" fill="#111"/>
<line x1="137.9" y1="449.4" x2="137.9" y2="452.0" stroke="#8e8e8e" stroke-width="0.8" />
<text x="137.9" y="462.6" font-size="9.2" fill="#3a3a3a" text-anchor="middle" font-style="italic" textLength="21.2" lengthAdjust="spacingAndGlyphs">HEK3</text>
<text x="137.9" y="472.2" font-size="9.0" fill="#3a3a3a" text-anchor="middle" textLength="30.0" lengthAdjust="spacingAndGlyphs">+1 T &gt; A</text>
<rect x="167.30" y="391.54" width="10.55" height="57.86" fill="#e4878c" stroke="#5a3a3c" stroke-width="0.8"/>
<line x1="172.57500000000002" y1="383.0045" x2="172.57500000000002" y2="391.54499999999996" stroke="#303030" stroke-width="0.65" />
<line x1="172.57500000000002" y1="391.54499999999996" x2="172.57500000000002" y2="400.08549999999997" stroke="#303030" stroke-width="0.65" />
<line x1="169.57500000000002" y1="383.0045" x2="175.57500000000002" y2="383.0045" stroke="#5a5a5a" stroke-width="0.6" />
<line x1="169.57500000000002" y1="400.08549999999997" x2="175.57500000000002" y2="400.08549999999997" stroke="#5a5a5a" stroke-width="0.6" />
<circle cx="172.58" cy="386.03" r="1.1" fill="#111"/>
<circle cx="172.58" cy="390.17" r="1.1" fill="#111"/>
<circle cx="172.58" cy="401.19" r="1.1" fill="#111"/>
<rect x="178.65" y="438.10" width="10.55" height="11.30" fill="url(#hpink)" stroke="#4a2426" stroke-width="0.8"/>
<line x1="183.925" y1="435.625" x2="183.925" y2="438.1045" stroke="#303030" stroke-width="0.65" />
<line x1="183.925" y1="438.1045" x2="183.925" y2="440.584" stroke="#303030" stroke-width="0.65" />
<line x1="180.925" y1="435.625" x2="186.925" y2="435.625" stroke="#5a5a5a" stroke-width="0.6" />
<line x1="180.925" y1="440.584" x2="186.925" y2="440.584" stroke="#5a5a5a" stroke-width="0.6" />
<circle cx="183.93" cy="437.00" r="1.1" fill="#111"/>
<circle cx="183.93" cy="439.76" r="1.1" fill="#111"/>
<rect x="190.00" y="403.12" width="10.55" height="46.28" fill="#a6a7aa" stroke="#4a4a4c" stroke-width="0.8"/>
<line x1="195.275" y1="393.74899999999997" x2="195.275" y2="403.116" stroke="#303030" stroke-width="0.65" />
<line x1="195.275" y1="403.116" x2="195.275" y2="412.48299999999995" stroke="#303030" stroke-width="0.65" />
<line x1="192.275" y1="393.74899999999997" x2="198.275" y2="393.74899999999997" stroke="#5a5a5a" stroke-width="0.6" />
<line x1="192.275" y1="412.48299999999995" x2="198.275" y2="412.48299999999995" stroke="#5a5a5a" stroke-width="0.6" />
<circle cx="195.28" cy="399.81" r="1.1" fill="#111"/>
<circle cx="195.28" cy="403.94" r="1.1" fill="#111"/>
<circle cx="195.28" cy="408.07" r="1.1" fill="#111"/>
<rect x="201.35" y="441.41" width="10.55" height="7.99" fill="url(#hgray)" stroke="#2a2a2a" stroke-width="0.8"/>
<line x1="206.625" y1="439.2065" x2="206.625" y2="441.41049999999996" stroke="#303030" stroke-width="0.65" />
<line x1="206.625" y1="441.41049999999996" x2="206.625" y2="443.61449999999996" stroke="#303030" stroke-width="0.65" />
<line x1="203.625" y1="439.2065" x2="209.625" y2="439.2065" stroke="#5a5a5a" stroke-width="0.6" />
<line x1="203.625" y1="443.61449999999996" x2="209.625" y2="443.61449999999996" stroke="#5a5a5a" stroke-width="0.6" />
<circle cx="206.62" cy="440.58" r="1.1" fill="#111"/>
<line x1="189.6" y1="449.4" x2="189.6" y2="452.0" stroke="#8e8e8e" stroke-width="0.8" />
<text x="189.6" y="462.6" font-size="9.2" fill="#3a3a3a" text-anchor="middle" font-style="italic" textLength="20.8" lengthAdjust="spacingAndGlyphs">RNF2</text>
<text x="189.6" y="472.2" font-size="9.0" fill="#3a3a3a" text-anchor="middle" textLength="35.9" lengthAdjust="spacingAndGlyphs">+1–15 del</text>
<rect x="219.00" y="400.09" width="10.55" height="49.31" fill="#e4878c" stroke="#5a3a3c" stroke-width="0.8"/>
<line x1="224.27500000000003" y1="397.606" x2="224.27500000000003" y2="400.08549999999997" stroke="#303030" stroke-width="0.65" />
<line x1="224.27500000000003" y1="400.08549999999997" x2="224.27500000000003" y2="402.565" stroke="#303030" stroke-width="0.65" />
<line x1="221.27500000000003" y1="397.606" x2="227.27500000000003" y2="397.606" stroke="#5a5a5a" stroke-width="0.6" />
<line x1="221.27500000000003" y1="402.565" x2="227.27500000000003" y2="402.565" stroke="#5a5a5a" stroke-width="0.6" />
<circle cx="224.28" cy="398.43" r="1.1" fill="#111"/>
<circle cx="224.28" cy="401.19" r="1.1" fill="#111"/>
<rect x="230.35" y="440.31" width="10.55" height="9.09" fill="url(#hpink)" stroke="#4a2426" stroke-width="0.8"/>
<line x1="235.62500000000003" y1="439.48199999999997" x2="235.62500000000003" y2="440.3085" stroke="#303030" stroke-width="0.65" />
<line x1="235.62500000000003" y1="440.3085" x2="235.62500000000003" y2="441.135" stroke="#303030" stroke-width="0.65" />
<line x1="232.62500000000003" y1="439.48199999999997" x2="238.62500000000003" y2="439.48199999999997" stroke="#5a5a5a" stroke-width="0.6" />
<line x1="232.62500000000003" y1="441.135" x2="238.62500000000003" y2="441.135" stroke="#5a5a5a" stroke-width="0.6" />
<circle cx="235.63" cy="440.03" r="1.1" fill="#111"/>
<rect x="241.70" y="398.16" width="10.55" height="51.24" fill="#a6a7aa" stroke="#4a4a4c" stroke-width="0.8"/>
<line x1="246.97500000000002" y1="386.8615" x2="246.97500000000002" y2="398.157" stroke="#303030" stroke-width="0.65" />
<line x1="246.97500000000002" y1="398.157" x2="246.97500000000002" y2="409.4525" stroke="#303030" stroke-width="0.65" />
<line x1="243.97500000000002" y1="386.8615" x2="249.97500000000002" y2="386.8615" stroke="#5a5a5a" stroke-width="0.6" />
<line x1="243.97500000000002" y1="409.4525" x2="249.97500000000002" y2="409.4525" stroke="#5a5a5a" stroke-width="0.6" />
<circle cx="246.98" cy="387.96" r="1.1" fill="#111"/>
<circle cx="246.98" cy="398.16" r="1.1" fill="#111"/>
<circle cx="246.98" cy="409.45" r="1.1" fill="#111"/>
<rect x="253.05" y="442.24" width="10.55" height="7.16" fill="url(#hgray)" stroke="#2a2a2a" stroke-width="0.8"/>
<line x1="258.32500000000005" y1="441.41049999999996" x2="258.32500000000005" y2="442.23699999999997" stroke="#303030" stroke-width="0.65" />
<line x1="258.32500000000005" y1="442.23699999999997" x2="258.32500000000005" y2="443.0635" stroke="#303030" stroke-width="0.65" />
<line x1="255.32500000000005" y1="441.41049999999996" x2="261.32500000000005" y2="441.41049999999996" stroke="#5a5a5a" stroke-width="0.6" />
<line x1="255.32500000000005" y1="443.0635" x2="261.32500000000005" y2="443.0635" stroke="#5a5a5a" stroke-width="0.6" />
<circle cx="258.33" cy="441.96" r="1.1" fill="#111"/>
<line x1="241.3" y1="449.4" x2="241.3" y2="452.0" stroke="#8e8e8e" stroke-width="0.8" />
<text x="241.3" y="462.6" font-size="9.2" fill="#3a3a3a" text-anchor="middle" font-style="italic" textLength="16.3" lengthAdjust="spacingAndGlyphs">HBB</text>
<text x="241.3" y="472.2" font-size="9.0" fill="#3a3a3a" text-anchor="middle" textLength="33.2" lengthAdjust="spacingAndGlyphs">+5 G &gt; A</text>
<rect x="270.90" y="351.70" width="11.60" height="6.30" fill="#e4878c" stroke="#7a4a4c" stroke-width="0.8"/>
<text x="287.5" y="358.1" font-size="9.6" fill="#3a3a3a" text-anchor="start" textLength="87.9" lengthAdjust="spacingAndGlyphs">PE3max intended edit</text>
<rect x="270.90" y="367.20" width="11.60" height="6.30" fill="url(#hpink)" stroke="#4a2426" stroke-width="0.8"/>
<text x="287.5" y="373.6" font-size="9.6" fill="#3a3a3a" text-anchor="start" textLength="58.5" lengthAdjust="spacingAndGlyphs">PE3max indels</text>
<rect x="270.90" y="381.20" width="11.60" height="6.30" fill="#a6a7aa" stroke="#6e6e70" stroke-width="0.8"/>
<text x="287.5" y="387.6" font-size="9.6" fill="#3a3a3a" text-anchor="start" textLength="88.0" lengthAdjust="spacingAndGlyphs">PE5max intended edit</text>
<rect x="270.90" y="396.80" width="11.60" height="6.30" fill="url(#hgray)" stroke="#2a2a2a" stroke-width="0.8"/>
<text x="287.5" y="403.2" font-size="9.6" fill="#3a3a3a" text-anchor="start" textLength="58.5" lengthAdjust="spacingAndGlyphs">PE5max indels</text>
</svg>
</body></html>
